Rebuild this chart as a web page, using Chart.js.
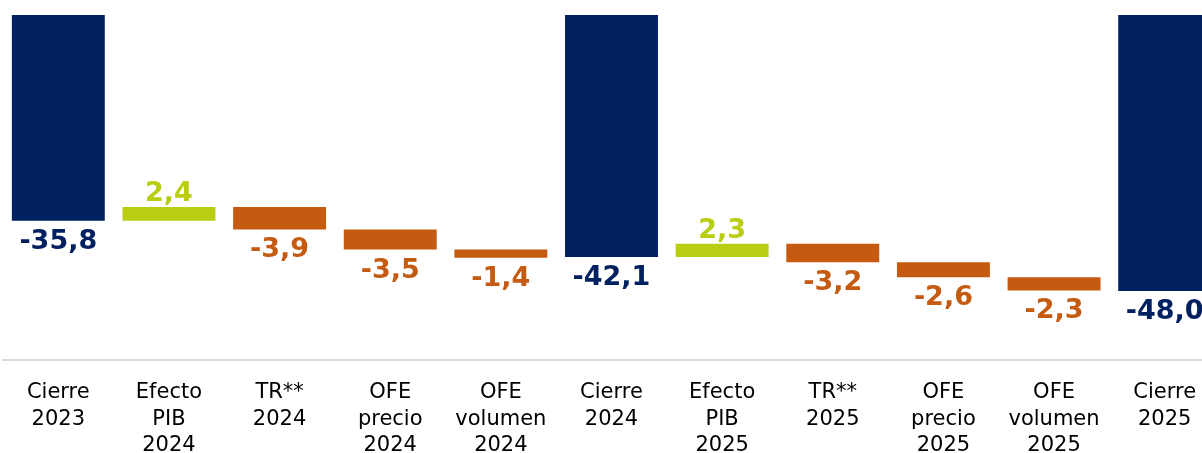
<!DOCTYPE html>
<html>
<head>
<meta charset="utf-8">
<script src="https://cdn.jsdelivr.net/npm/chart.js@4.4.0/dist/chart.umd.min.js"></script>
<style>
    html, body { margin: 0; padding: 0; background: #fff; overflow: hidden; }
    canvas { display: block; }
</style>
</head>
<body>
<canvas id="waterfall" width="1220" height="453"></canvas>
<script>
// Waterfall data
const categories = [
    ["Cierre", "2023"],
    ["Efecto", "PIB", "2024"],
    ["TR**", "2024"],
    ["OFE", "precio", "2024"],
    ["OFE", "volumen", "2024"],
    ["Cierre", "2024"],
    ["Efecto", "PIB", "2025"],
    ["TR**", "2025"],
    ["OFE", "precio", "2025"],
    ["OFE", "volumen", "2025"],
    ["Cierre", "2025"]
]
const values = [-35.8, 2.4, -3.9, -3.5, -1.4, -42.1, 2.3, -3.2, -2.6, -2.3, -48.0]
const isTotal = [true, false, false, false, false, true, false, false, false, false, true]

const navy = "#00205F"
const green = "#B9CD13"
const orange = "#C55A11"

// floating ranges: totals start at 0, changes start at running sum
let running = 0
const ranges = values.map((v, i) => {
    if (isTotal[i]) {
        running = v
        return [0, v]
    }
    let start = running
    running = Math.round((running + v) * 10) / 10
    return [start, running]
})

const barColors = values.map((v, i) => isTotal[i] ? navy : (v > 0 ? green : orange))

function fmt(v) {
    return v.toFixed(1).replace(".", ",")
}

// Value labels: above for positive changes, below for the rest
const valueLabels = {
    id: "valueLabels",
    afterDatasetsDraw(chart) {
        let ctx = chart.ctx
        let meta = chart.getDatasetMeta(0)
        ctx.save()
        ctx.font = 'bold 27px "DejaVu Sans"'
        ctx.textAlign = "center"
        ctx.textBaseline = "alphabetic"
        meta.data.forEach((bar, i) => {
            let v = values[i]
            let top = Math.min(bar.y, bar.base)
            let bottom = Math.max(bar.y, bar.base)
            ctx.fillStyle = barColors[i]
            if (!isTotal[i] && v > 0) {
                ctx.fillText(fmt(v), bar.x, top - 6)
            } else {
                ctx.fillText(fmt(v), bar.x, bottom + 28)
            }
        })
        ctx.restore()
    }
}

const data = {
    labels: categories,
    datasets: [
        {
            data: ranges,
            backgroundColor: barColors,
            borderWidth: 0,
            barPercentage: 0.84,
            categoryPercentage: 1.0
        }
    ]
}

const config = {
    type: "bar",
    data: data,
    plugins: [valueLabels],
    options: {
        responsive: false,
        animation: false,
        layout: {
            padding: { top: 15, left: 3, right: 0, bottom: 0 }
        },
        plugins: {
            legend: { display: false },
            tooltip: { enabled: false }
        },
        scales: {
            y: {
                display: false,
                min: -60,
                max: 0
            },
            x: {
                grid: {
                    display: false,
                    drawTicks: false
                },
                border: {
                    display: true,
                    color: "#D9D9D9",
                    width: 2
                },
                ticks: {
                    color: "#000000",
                    padding: 20,
                    autoSkip: false,
                    maxRotation: 0,
                    font: { family: "DejaVu Sans", size: 21, lineHeight: 1.24 }
                },
                afterFit(scale) {
                    scale.height = 93
                }
            }
        }
    }
}

new Chart(document.querySelector("#waterfall"), config)
</script>
</body>
</html>
